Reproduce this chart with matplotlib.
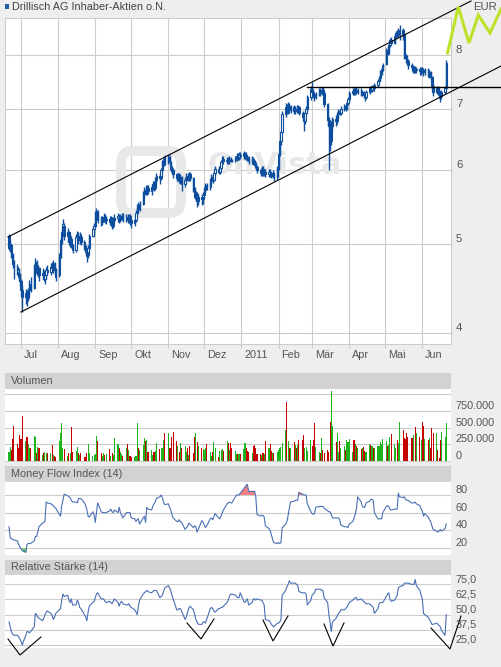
import numpy as np
import pandas as pd
import matplotlib
matplotlib.use("Agg")
import matplotlib.pyplot as plt
import matplotlib.dates as mdates
import matplotlib.transforms as mtransforms
from matplotlib.lines import Line2D
from matplotlib.patches import Rectangle, FancyBboxPatch
from matplotlib.ticker import NullLocator

plt.rcParams['font.family'] = ['Liberation Sans', 'DejaVu Sans']

# ---------------- data ----------------
title = "Drillisch AG Inhaber-Aktien o.N."
currency = "EUR"
dates = pd.bdate_range("2010-06-21", "2011-06-21")
month_starts = pd.date_range("2010-07-01", "2011-06-01", freq="MS")
month_labels = ["Jul", "Aug", "Sep", "Okt", "Nov", "Dez", "2011", "Feb", "Mär", "Apr", "Mai", "Jun"]

opens = [
    5.10, 4.97, 4.98, 4.85, 4.75, 4.72, 4.66, 4.62, 4.55, 4.45, 4.38, 4.40, 4.36, 4.45, 4.52,
    4.48, 4.72, 4.76, 4.65, 4.70, 4.62, 4.66, 4.58, 4.62, 4.68, 4.66, 4.72, 4.70, 4.75, 4.68,
    4.62, 4.85, 5.05, 5.15, 5.22, 5.10, 5.14, 5.02, 5.06, 4.98, 4.92, 5.08, 5.10, 5.05, 5.08,
    5.02, 4.95, 4.90, 4.86, 4.95, 5.10, 5.18, 5.22, 5.38, 5.40, 5.30, 5.28, 5.32, 5.34, 5.30,
    5.32, 5.28, 5.32, 5.22, 5.30, 5.33, 5.35, 5.30, 5.34, 5.36, 5.32, 5.34, 5.30, 5.35, 5.30,
    5.26, 5.30, 5.40, 5.48, 5.45, 5.52, 5.66, 5.72, 5.68, 5.74, 5.70, 5.76, 5.80, 5.74, 5.86,
    5.92, 5.88, 6.00, 6.10, 6.18, 6.12, 6.20, 6.12, 6.02, 6.00, 5.94, 5.88, 5.92, 5.86, 5.90,
    5.80, 5.86, 5.92, 5.88, 5.94, 5.88, 5.72, 5.62, 5.66, 5.56, 5.62, 5.58, 5.64, 5.72, 5.78,
    5.76, 5.84, 5.90, 5.86, 5.96, 6.02, 5.98, 6.04, 6.12, 6.18, 6.14, 6.16, 6.14, 6.18, 6.16,
    6.15, 6.18, 6.22, 6.20, 6.24, 6.26, 6.22, 6.24, 6.20, 6.18, 6.14, 6.18, 6.12, 6.08,
    6.05, 6.00, 5.96, 6.02, 5.96, 5.98, 5.94, 5.98, 5.95, 5.92, 5.96, 5.90, 6.02, 6.25, 6.45,
    6.60, 6.90, 7.02, 6.95, 7.05, 6.98, 7.02, 6.95, 7.00, 6.98, 7.02, 6.92, 6.85, 6.78, 6.92,
    7.00, 7.20, 7.35, 7.30, 7.22, 7.20, 7.26, 7.32, 7.28, 7.34, 7.28, 7.08, 6.80, 6.70, 6.45,
    6.70, 6.82, 6.78, 6.90, 6.96, 6.92, 7.00, 7.04, 7.00, 7.10, 7.16, 7.28, 7.32, 7.28, 7.34,
    7.30, 7.32, 7.26, 7.30, 7.24, 7.20, 7.30, 7.36, 7.34, 7.38, 7.36, 7.42, 7.50, 7.56, 7.66,
    7.72, 7.82, 8.10, 8.05, 8.20, 8.30, 8.25, 8.38, 8.45, 8.40, 8.48, 8.52, 8.40, 7.98,
    7.95, 7.88, 7.80, 7.76, 7.70, 7.74, 7.70, 7.72, 7.68, 7.72, 7.70, 7.66, 7.70, 7.62, 7.66,
    7.58, 7.40, 7.30, 7.36, 7.32, 7.28, 7.22, 7.30, 7.36,
]
closes = [
    4.95, 5.00, 4.85, 4.75, 4.72, 4.68, 4.60, 4.55, 4.45, 4.38, 4.42, 4.35, 4.45, 4.52, 4.48,
    4.72, 4.78, 4.65, 4.70, 4.62, 4.65, 4.58, 4.62, 4.68, 4.66, 4.72, 4.70, 4.76, 4.68, 4.60,
    4.85, 5.05, 5.15, 5.25, 5.10, 5.15, 5.02, 5.08, 4.98, 4.92, 5.08, 5.12, 5.05, 5.10, 5.02,
    4.95, 4.90, 4.85, 4.95, 5.10, 5.18, 5.22, 5.38, 5.42, 5.30, 5.28, 5.32, 5.34, 5.30, 5.32,
    5.28, 5.32, 5.22, 5.30, 5.33, 5.36, 5.30, 5.34, 5.36, 5.32, 5.34, 5.30, 5.35, 5.30, 5.26,
    5.30, 5.40, 5.48, 5.45, 5.52, 5.66, 5.72, 5.68, 5.74, 5.70, 5.76, 5.80, 5.74, 5.86, 5.92,
    5.88, 6.00, 6.10, 6.18, 6.12, 6.20, 6.12, 6.02, 6.00, 5.94, 5.88, 5.92, 5.86, 5.90, 5.80,
    5.86, 5.92, 5.88, 5.94, 5.88, 5.72, 5.62, 5.66, 5.56, 5.62, 5.58, 5.64, 5.72, 5.78, 5.76,
    5.84, 5.90, 5.86, 5.96, 6.02, 5.98, 6.04, 6.12, 6.18, 6.14, 6.16, 6.14, 6.18, 6.16, 6.15,
    6.18, 6.22, 6.20, 6.24, 6.22, 6.22, 6.24, 6.20, 6.18, 6.14, 6.18, 6.12, 6.08, 6.05,
    6.00, 5.96, 6.02, 5.96, 5.98, 5.94, 5.98, 5.95, 5.92, 5.96, 5.90, 6.02, 6.25, 6.45, 6.60,
    6.90, 7.02, 6.95, 7.05, 6.98, 7.02, 6.95, 7.00, 6.98, 7.02, 6.92, 6.85, 6.78, 6.92, 7.00,
    7.20, 7.35, 7.30, 7.22, 7.20, 7.26, 7.32, 7.28, 7.34, 7.28, 7.08, 6.80, 6.70, 6.45, 6.70,
    6.82, 6.78, 6.90, 6.96, 6.92, 7.00, 7.04, 7.00, 7.10, 7.16, 7.28, 7.32, 7.28, 7.34, 7.30,
    7.32, 7.26, 7.30, 7.24, 7.20, 7.30, 7.36, 7.34, 7.38, 7.36, 7.42, 7.50, 7.56, 7.66, 7.72,
    7.80, 8.10, 8.05, 8.20, 8.30, 8.25, 8.38, 8.45, 8.40, 8.48, 8.52, 8.40, 7.98, 7.95,
    7.88, 7.80, 7.76, 7.70, 7.74, 7.70, 7.72, 7.68, 7.72, 7.70, 7.66, 7.70, 7.62, 7.66, 7.58,
    7.40, 7.30, 7.36, 7.32, 7.28, 7.22, 7.30, 7.36, 7.85,
]
highs = [
    5.12, 5.05, 5.00, 4.88, 4.80, 4.75, 4.70, 4.65, 4.58, 4.50, 4.46, 4.45, 4.48, 4.56, 4.60,
    4.75, 4.82, 4.80, 4.74, 4.72, 4.70, 4.68, 4.66, 4.72, 4.74, 4.76, 4.78, 4.80, 4.78, 4.70,
    4.88, 5.08, 5.20, 5.32, 5.26, 5.20, 5.16, 5.12, 5.10, 5.00, 5.12, 5.16, 5.14, 5.14, 5.12,
    5.05, 4.98, 4.94, 4.98, 5.12, 5.22, 5.26, 5.42, 5.46, 5.44, 5.36, 5.36, 5.40, 5.38, 5.36,
    5.36, 5.36, 5.34, 5.34, 5.38, 5.40, 5.38, 5.38, 5.40, 5.40, 5.38, 5.38, 5.38, 5.38, 5.32,
    5.34, 5.44, 5.52, 5.54, 5.56, 5.70, 5.76, 5.78, 5.78, 5.78, 5.80, 5.84, 5.84, 5.90, 5.96,
    5.96, 6.04, 6.16, 6.22, 6.24, 6.25, 6.24, 6.14, 6.06, 6.04, 5.96, 5.96, 5.96, 5.94, 5.92,
    5.90, 5.96, 5.96, 5.98, 5.98, 5.90, 5.76, 5.70, 5.68, 5.66, 5.66, 5.68, 5.76, 5.82, 5.82,
    5.88, 5.94, 5.94, 6.00, 6.06, 6.06, 6.08, 6.16, 6.22, 6.22, 6.20, 6.20, 6.22, 6.20, 6.18,
    6.22, 6.26, 6.26, 6.28, 6.28, 6.30, 6.28, 6.28, 6.24, 6.22, 6.22, 6.20, 6.16, 6.12,
    6.08, 6.04, 6.06, 6.06, 6.02, 6.02, 6.02, 6.02, 5.98, 6.00, 5.98, 6.06, 6.28, 6.48, 6.64,
    6.95, 7.10, 7.08, 7.12, 7.10, 7.06, 7.06, 7.04, 7.06, 7.06, 7.04, 6.95, 6.88, 6.96, 7.04,
    7.24, 7.40, 7.48, 7.34, 7.28, 7.30, 7.36, 7.36, 7.38, 7.38, 7.30, 7.10, 6.85, 6.75, 6.78,
    6.86, 6.88, 6.94, 7.00, 7.00, 7.04, 7.08, 7.08, 7.14, 7.20, 7.32, 7.36, 7.36, 7.38, 7.38,
    7.36, 7.36, 7.34, 7.32, 7.28, 7.34, 7.40, 7.40, 7.42, 7.42, 7.46, 7.54, 7.60, 7.70, 7.76,
    7.84, 8.15, 8.18, 8.24, 8.34, 8.36, 8.42, 8.50, 8.52, 8.55, 8.62, 8.56, 8.42, 8.02,
    8.00, 7.92, 7.84, 7.80, 7.78, 7.78, 7.76, 7.76, 7.76, 7.76, 7.74, 7.74, 7.74, 7.70, 7.68,
    7.60, 7.44, 7.40, 7.40, 7.36, 7.32, 7.34, 7.40, 7.90,
]
lows = [
    4.92, 4.90, 4.82, 4.70, 4.58, 4.62, 4.55, 4.50, 4.38, 4.21, 4.30, 4.28, 4.33, 4.40, 4.43,
    4.46, 4.66, 4.62, 4.60, 4.55, 4.58, 4.55, 4.52, 4.58, 4.62, 4.62, 4.66, 4.65, 4.62, 4.55,
    4.60, 4.82, 5.00, 5.10, 5.05, 5.02, 4.98, 4.96, 4.94, 4.88, 4.90, 5.04, 5.00, 5.00, 4.98,
    4.92, 4.86, 4.78, 4.82, 4.92, 5.08, 5.12, 5.20, 5.30, 5.26, 5.22, 5.24, 5.28, 5.26, 5.25,
    5.24, 5.24, 5.18, 5.20, 5.27, 5.28, 5.26, 5.27, 5.30, 5.28, 5.28, 5.26, 5.26, 5.24, 5.20,
    5.22, 5.28, 5.36, 5.40, 5.42, 5.50, 5.60, 5.64, 5.64, 5.66, 5.64, 5.72, 5.70, 5.72, 5.82,
    5.80, 5.86, 5.98, 6.06, 6.08, 6.10, 6.06, 5.98, 5.94, 5.88, 5.84, 5.84, 5.82, 5.80, 5.70,
    5.76, 5.82, 5.84, 5.84, 5.84, 5.68, 5.58, 5.56, 5.48, 5.50, 5.50, 5.52, 5.60, 5.68, 5.72,
    5.72, 5.80, 5.82, 5.84, 5.92, 5.94, 5.94, 6.00, 6.08, 6.10, 6.10, 6.10, 6.10, 6.12, 6.12,
    6.12, 6.14, 6.16, 6.16, 6.18, 6.18, 6.18, 6.16, 6.14, 6.10, 6.10, 6.08, 6.04, 6.00,
    5.96, 5.92, 5.92, 5.92, 5.92, 5.90, 5.90, 5.90, 5.88, 5.88, 5.84, 5.86, 6.00, 6.22, 6.40,
    6.58, 6.85, 6.90, 6.90, 6.92, 6.92, 6.90, 6.90, 6.92, 6.94, 6.88, 6.80, 6.62, 6.74, 6.88,
    6.96, 7.15, 7.25, 7.18, 7.14, 7.16, 7.22, 7.22, 7.24, 7.24, 7.02, 6.70, 6.00, 6.30, 6.40,
    6.64, 6.70, 6.74, 6.86, 6.88, 6.88, 6.96, 6.96, 6.98, 7.06, 7.12, 7.24, 7.24, 7.24, 7.26,
    7.26, 7.22, 7.22, 7.18, 7.14, 7.16, 7.26, 7.30, 7.30, 7.32, 7.32, 7.38, 7.46, 7.52, 7.62,
    7.68, 7.80, 8.00, 8.02, 8.16, 8.20, 8.22, 8.34, 8.36, 8.36, 8.30, 8.30, 7.92, 7.85,
    7.80, 7.72, 7.68, 7.64, 7.64, 7.64, 7.64, 7.62, 7.62, 7.64, 7.60, 7.62, 7.58, 7.56, 7.52,
    7.34, 7.22, 7.26, 7.24, 7.18, 7.12, 7.16, 7.26, 7.34,
]
volume_k = [
    140, 215, 165, 325, 524, 255, 190, 390, 325, 675, 300, 365, 255, 190, 190,
    375, 360, 125, 215, 190, 90, 125, 140, 115, 125, 125, 240, 90, 75, 65,
    300, 415, 575, 190, 180, 75, 125, 125, 505, 140, 155, 205, 115, 90, 125,
    65, 55, 115, 250, 115, 75, 90, 100, 375, 300, 125, 75, 125, 90, 110,
    175, 75, 115, 90, 340, 250, 190, 140, 105, 70, 190, 250, 165, 75, 55,
    65, 75, 575, 190, 165, 240, 340, 300, 315, 140, 165, 90, 140, 150, 265,
    180, 190, 190, 315, 415, 425, 190, 190, 360, 440, 300, 225, 140, 265, 190,
    225, 140, 190, 90, 225, 125, 360, 425, 290, 225, 190, 180, 165, 190, 250,
    140, 75, 140, 290, 190, 55, 150, 165, 180, 155, 300, 265, 165, 275, 190,
    150, 100, 105, 105, 105, 175, 265, 190, 150, 140, 125, 225, 240, 190,
    105, 105, 90, 115, 105, 300, 190, 250, 155, 125, 125, 140, 165, 190, 215,
    265, 465, 890, 300, 190, 190, 290, 240, 190, 240, 315, 315, 390, 190, 215,
    155, 315, 225, 315, 575, 215, 140, 115, 340, 165, 115, 165, 140, 590, 1050,
    524, 280, 425, 140, 300, 190, 225, 165, 315, 290, 325, 140, 315, 250, 225,
    190, 180, 190, 205, 155, 140, 250, 240, 225, 190, 190, 225, 225, 290, 250,
    325, 300, 225, 240, 360, 400, 250, 190, 315, 265, 590, 465, 340, 325,
    425, 360, 350, 340, 390, 515, 415, 360, 315, 590, 530, 325, 315, 340, 190,
    490, 415, 425, 165, 40, 315, 440, 365, 575,
]
mfi = [
    44, 32, 30, 30, 29, 28, 24, 21, 19, 17, 15, 24, 25, 25, 25,
    28, 33, 33, 38, 44, 48, 49, 50, 72, 71, 70, 69, 68, 66, 65,
    58, 56, 68, 74, 81, 79, 78, 77, 74, 72, 72, 71, 76, 76, 76,
    71, 68, 63, 56, 55, 61, 58, 49, 60, 71, 61, 60, 60, 60, 60,
    62, 64, 61, 60, 63, 60, 66, 60, 57, 54, 60, 60, 60, 60, 54,
    53, 50, 52, 53, 47, 54, 56, 49, 66, 64, 63, 67, 70, 72, 76,
    78, 80, 77, 72, 69, 70, 66, 63, 58, 54, 50, 50, 52, 50, 49,
    41, 43, 44, 48, 47, 43, 45, 44, 38, 41, 51, 49, 46, 43, 45,
    53, 54, 52, 55, 59, 54, 53, 56, 60, 63, 70, 71, 72, 71, 71,
    78, 80, 80, 80, 82, 87, 89, 91, 92, 84, 84, 84, 84, 78,
    58, 56, 57, 57, 55, 45, 42, 40, 35, 30, 26, 25, 26, 25, 26,
    43, 47, 50, 57, 65, 72, 73, 74, 74, 74, 83, 81, 80, 80, 80,
    70, 61, 59, 58, 59, 66, 67, 67, 67, 67, 65, 62, 61, 61, 58,
    54, 54, 54, 54, 52, 46, 44, 44, 44, 43, 47, 50, 54, 58, 64,
    78, 72, 67, 66, 66, 71, 73, 75, 75, 74, 60, 53, 53, 53, 53,
    60, 67, 68, 67, 64, 63, 64, 64, 64, 82, 78, 77, 78, 75,
    74, 74, 71, 71, 71, 72, 70, 68, 64, 62, 56, 59, 55, 52, 50,
    45, 41, 39, 38, 39, 41, 39, 42, 47,
]
rsi = [
    44, 40, 36, 34, 33, 33, 32, 30, 28, 25, 33, 36, 36, 35, 36,
    40, 51, 50, 48, 47, 45, 47, 50, 52, 53, 51, 49, 46, 48, 51,
    54, 55, 62, 67, 65, 66, 62, 60, 63, 58, 58, 62, 60, 56, 55,
    50, 48, 45, 52, 57, 60, 61, 64, 67, 68, 63, 63, 63, 61, 60,
    61, 60, 59, 61, 63, 60, 57, 60, 61, 59, 58, 58, 59, 57, 56,
    54, 52, 50, 57, 62, 67, 68, 69, 70, 69, 68, 69, 70, 70, 70,
    64, 65, 66, 69, 72, 74, 72, 70, 66, 63, 54, 54, 55, 55, 53,
    46, 48, 52, 55, 57, 54, 50, 46, 44, 42, 42, 44, 44, 43, 46,
    55, 56, 55, 53, 52, 55, 55, 56, 56, 57, 60, 62, 65, 67, 67,
    66, 65, 64, 64, 68, 61, 60, 62, 63, 58, 60, 63, 63, 62,
    63, 62, 62, 60, 58, 46, 45, 44, 42, 41, 40, 43, 43, 44, 46,
    66, 70, 73, 75, 78, 76, 76, 76, 75, 74, 69, 68, 68, 68, 67,
    58, 62, 66, 67, 68, 71, 71, 71, 70, 70, 64, 60, 50, 44, 36,
    44, 47, 49, 51, 52, 54, 54, 55, 56, 58, 60, 62, 63, 64, 64,
    62, 63, 62, 61, 60, 59, 59, 58, 57, 56, 51, 55, 59, 60, 60,
    60, 65, 67, 68, 63, 61, 62, 64, 66, 72, 73, 74, 76, 76,
    76, 76, 75, 75, 75, 79, 74, 70, 66, 63, 51, 50, 48, 46, 44,
    42, 42, 43, 42, 41, 40, 37, 33, 50,
]

price_ticks = [4, 5, 6, 7, 8]
volume_ticks = [0, 250000, 500000, 750000, 1000000]
volume_tick_labels = ["0", "250.000", "500.000", "750.000", ""]
mfi_ticks = [20, 40, 60, 80]
rsi_ticks = [25.0, 37.5, 50.0, 62.5, 75.0]
rsi_tick_labels = ["25,0", "37,5", "50,0", "62,5", "75,0"]

# ---------------- layout helpers ----------------
W, H = 501, 667
BG = '#eeeeee'
GRID = '#cccccc'
TXT = '#555555'
BLUE = '#0d4f9e'
LINE_BLUE = '#4a6fb5'
FS = 7.8

fig = plt.figure(figsize=(W / 100, H / 100), dpi=100, facecolor=BG)


def rect(x0, y0, x1, y1):
    return [x0 / W, 1 - y1 / H, (x1 - x0) / W, (y1 - y0) / H]


def P(x, y):
    return (x / W, 1 - y / H)


ax = fig.add_axes(rect(5, 18, 451, 344))
axv = fig.add_axes(rect(5, 389, 451, 462))
axm = fig.add_axes(rect(5, 482, 451, 555))
axr = fig.add_axes(rect(5, 575, 451, 648))

x = mdates.date2num(dates.to_pydatetime())
xmin = mdates.date2num(pd.Timestamp("2010-07-01").to_pydatetime()) - 16 / 1.198
xmax = mdates.date2num(pd.Timestamp("2011-06-01").to_pydatetime()) + 28.7 / 1.198

o, c, h, l = (np.array(v, dtype=float) for v in (opens, closes, highs, lows))
up = c >= o

# ---------------- main price chart ----------------
ax.set_yscale('log')
ax.set_xlim(xmin, xmax)
ax.set_ylim(3.892, 8.773)
ax.set_axisbelow(True)
ax.grid(True, color=GRID, lw=0.8)
for s in ax.spines.values():
    s.set_color(GRID)
    s.set_linewidth(0.8)

# faint watermark logo
ax.add_patch(FancyBboxPatch(P(121, 213), 60 / W, 62 / H, boxstyle="round,pad=0,rounding_size=0.02",
                            transform=fig.transFigure, facecolor='none', edgecolor='#e8e8e8',
                            lw=7, zorder=0.6))
ax.text(275 / W, 1 - 166 / H, "OnVista", transform=fig.transFigure, ha='center', va='center',
        fontsize=22, fontweight='bold', color='#e8e8e8', family='DejaVu Sans', zorder=0.6)

ax.vlines(x, l, h, color=BLUE, lw=1.0, zorder=2)
bottoms = np.minimum(o, c)
heights = np.maximum(np.abs(c - o), 0.015)
ax.bar(x[up], heights[up], bottom=bottoms[up], width=1.1, facecolor='white',
       edgecolor=BLUE, lw=0.8, zorder=3)
ax.bar(x[~up], heights[~up], bottom=bottoms[~up], width=1.1, facecolor=BLUE,
       edgecolor=BLUE, lw=0.8, zorder=3)

ax.yaxis.set_minor_locator(NullLocator())
ax.set_yticks(price_ticks)
ax.set_yticklabels([str(t) for t in price_ticks])
ax.yaxis.tick_right()
ax.tick_params(axis='y', length=0, pad=3.6, labelsize=FS + 0.4, labelcolor=TXT)
for lab in ax.get_yticklabels():
    lab.set_verticalalignment('bottom')

ax.set_xticks(mdates.date2num(month_starts.to_pydatetime()))
ax.set_xticklabels(month_labels)
ax.xaxis.set_minor_locator(NullLocator())
ax.tick_params(axis='x', length=3, width=0.8, color=GRID, pad=1.5,
               labelsize=FS, labelcolor=TXT)
xoff = mtransforms.ScaledTranslation(3 / 100, 0, fig.dpi_scale_trans)
for lab in ax.get_xticklabels():
    lab.set_horizontalalignment('left')
    lab.set_transform(lab.get_transform() + xoff)


def style_panel(a, ticks, labels, ylim):
    a.set_xlim(xmin, xmax)
    a.set_ylim(*ylim)
    a.set_axisbelow(True)
    a.grid(True, axis='y', color=GRID, lw=0.8)
    for s in a.spines.values():
        s.set_visible(False)
    a.set_xticks([])
    a.set_yticks(ticks)
    a.set_yticklabels(labels)
    a.yaxis.tick_right()
    a.tick_params(axis='y', length=0, pad=3.6, labelsize=FS, labelcolor=TXT)
    for lab in a.get_yticklabels():
        lab.set_verticalalignment('bottom')


# ---------------- volume ----------------
vol = np.array(volume_k, dtype=float) * 1000
prev_close = np.r_[c[0], c[:-1]]
vol_colors = np.where(c >= prev_close, '#1db41d', '#c40000')
axv.bar(x, vol, width=0.9, color=vol_colors, lw=0, zorder=2)
style_panel(axv, volume_ticks, volume_tick_labels, (-15000, 1078000))

# ---------------- money flow index ----------------
m = np.array(mfi, dtype=float)
axm.fill_between(x, m, 80, where=m >= 80, interpolate=True, color='#f08080', lw=0, zorder=2)
axm.fill_between(x, m, 20, where=m <= 20, interpolate=True, color='#66cc55', lw=0, zorder=2)
axm.plot(x, m, color=LINE_BLUE, lw=0.8, zorder=3)
style_panel(axm, mfi_ticks, [str(t) for t in mfi_ticks], (12.0, 94.7))

# ---------------- relative strength ----------------
axr.plot(x, np.array(rsi, dtype=float), color=LINE_BLUE, lw=0.8, zorder=3)
style_panel(axr, rsi_ticks, rsi_tick_labels, (22.5, 82.7))

# ---------------- headers / title ----------------
for (y0, y1, name) in [(373, 389, "Volumen"), (466, 482, "Money Flow Index (14)"),
                       (560, 575, "Relative Stärke (14)")]:
    fig.add_artist(Rectangle(P(5, y1), 446 / W, (y1 - y0) / H, transform=fig.transFigure,
                             facecolor='#d2d2d2', edgecolor='none', zorder=1))
    fig.text(11 / W, 1 - ((y0 + y1) / 2) / H, name, ha='left', va='center',
             fontsize=FS, color=TXT, zorder=2)

fig.add_artist(Rectangle(P(5, 8.5), 3.5 / W, 4 / H, transform=fig.transFigure,
                         facecolor='#1f5fa8', edgecolor='none'))
fig.text(12 / W, 1 - 7 / H, title, ha='left', va='center', fontsize=FS, color='#444444')

# ---------------- drawn annotations ----------------
def fig_line(pts, color='black', lw=0.8):
    xs = [p[0] / W for p in pts]
    ys = [1 - p[1] / H for p in pts]
    fig.add_artist(Line2D(xs, ys, transform=fig.transFigure, color=color, lw=lw,
                          solid_joinstyle='miter', zorder=5))


fig_line([(8, 237), (471, 1)])
fig_line([(21, 312), (501, 66)])
fig_line([(307, 87), (501, 87)], lw=1.0)
fig_line([(447.5, 53), (458.3, 7), (469, 43), (478.3, 15), (490, 33), (501, 9)],
         color='#bde22a', lw=2.2)
fig.text(485 / W, 1 - 7 / H, currency, ha='center', va='center', fontsize=FS + 0.4, color=TXT, zorder=6)

for v in [[(8, 639), (20, 655), (41, 637)],
          [(187, 623), (201, 639), (214, 619)],
          [(263, 620), (273, 641), (288, 616)],
          [(324, 624), (333, 646), (344, 623)],
          [(431, 628), (450, 649), (461, 616)]]:
    fig_line(v, lw=0.8)

fig.savefig("out.png", dpi=100, facecolor=BG)
